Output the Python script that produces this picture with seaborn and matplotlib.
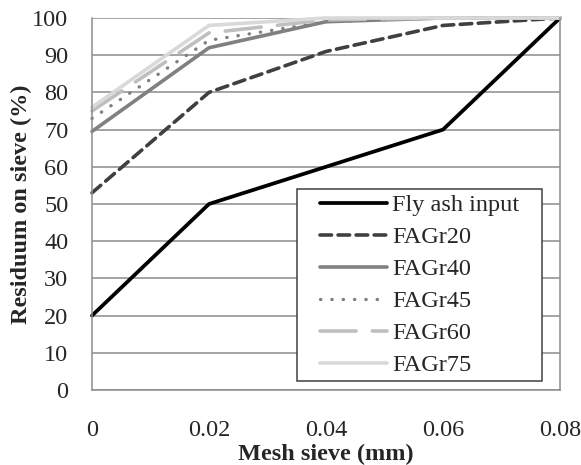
import pandas as pd
import matplotlib.pyplot as plt
import seaborn as sns
import numpy as np
from matplotlib.patches import Rectangle

# valeurs
mesh = [0, 0.02, 0.04, 0.06, 0.08]
fly_ash = [20, 50, 60, 70, 100]
fagr20 = [53, 80, 91, 98, 100]
fagr40 = [69.5, 92, 99, 100, 100]
fagr45 = [73, 94, 99, 100, 100]
fagr60 = [75, 96, 99.5, 100, 100]
fagr75 = [76, 98, 100, 100, 100]

series = {
    'Fly ash input': fly_ash,
    'FAGr20': fagr20,
    'FAGr40': fagr40,
    'FAGr45': fagr45,
    'FAGr60': fagr60,
    'FAGr75': fagr75,
}
styles = {
    'Fly ash input': dict(color='black', lw=2.7, ls='-'),
    'FAGr20': dict(color='#404040', lw=2.6, ls=(0, (3.2, 1.8)), cap='round'),
    'FAGr40': dict(color='#808080', lw=2.6, ls='-'),
    'FAGr45': dict(color='#808080', lw=2.4, ls=(0, (0.1, 3.3)), cap='round'),
    'FAGr60': dict(color='#bfbfbf', lw=2.6, ls=(0, (10, 4.5)), cap='round'),
    'FAGr75': dict(color='#d9d9d9', lw=2.6, ls='-'),
}

rows = []
for name, vals in series.items():
    for m, v in zip(mesh, vals):
        rows.append({'mesh': m, 'value': v, 'series': name})
df = pd.DataFrame(rows)

sns.set_style('white')
plt.rcParams['font.family'] = ['Liberation Serif', 'DejaVu Serif']

fig, ax = plt.subplots(figsize=(5.81, 4.65), dpi=100)
for name in series:
    sub = df[df['series'] == name]
    st = styles[name]
    sns.lineplot(data=sub, x='mesh', y='value', ax=ax, label=name,
                 color=st['color'], linewidth=st['lw'], linestyle=st['ls'],
                 dash_capstyle=st.get('cap', 'butt'), clip_on=False)

ax.set_xlim(0, 0.08)
ax.set_ylim(0, 100)
ax.set_xticks(mesh)
ax.set_xticklabels(['0', '0.02', '0.04', '0.06', '0.08'])
ax.set_yticks(range(0, 101, 10))
ax.yaxis.grid(True, color='#8c8c8c', lw=1.1)
ax.set_axisbelow(True)
ax.spines['top'].set_visible(False)
for s in ['left', 'bottom', 'right']:
    ax.spines[s].set_color('#8c8c8c')
    ax.spines[s].set_linewidth(1.1)
ax.tick_params(axis='both', direction='out', length=5, color='#8c8c8c',
               labelsize=17.5, width=1.1)
ax.tick_params(axis='y', pad=12)
ax.tick_params(axis='x', pad=16.5)
ax.set_xlabel('Mesh sieve (mm)', fontsize=17.5, fontweight='bold', labelpad=2.5)
ax.set_ylabel('Residuum on sieve (%)', fontsize=17.5, fontweight='bold', labelpad=0)

plt.subplots_adjust(left=0.1583, right=0.9639, top=0.9613, bottom=0.1613)

# legende sans cadre, puis cadre plus large dessine a la main
leg = ax.legend(loc='lower right', bbox_to_anchor=(0.923, 0.0242), borderaxespad=0,
                fontsize=17.5, frameon=False, handlelength=2.75, labelspacing=0.41,
                handletextpad=0.2, borderpad=0.2)
fig.canvas.draw()
bb = leg.get_window_extent().transformed(ax.transAxes.inverted())
extra = 18 / ax.bbox.width
frame = Rectangle((bb.x0 - extra, bb.y0), bb.width + 2 * extra, bb.height,
                  transform=ax.transAxes, facecolor='white', edgecolor='#404040',
                  lw=1.1, zorder=4.9)
ax.add_patch(frame)
leg.set_zorder(5)

plt.savefig('out.png', dpi=100)
